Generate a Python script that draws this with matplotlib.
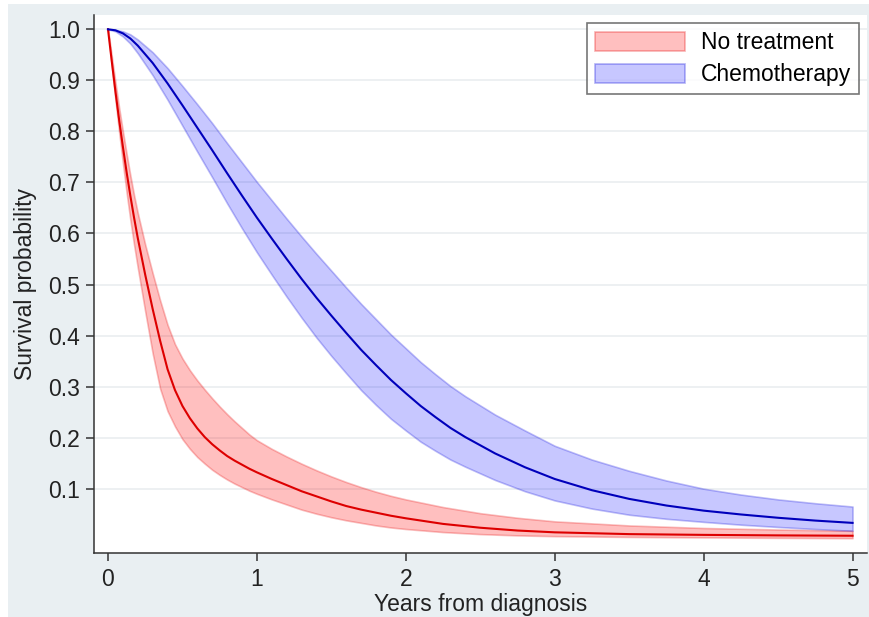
import numpy as np
import matplotlib.pyplot as plt
from matplotlib.patches import Patch, Rectangle

plt.rcParams['font.family'] = ['Liberation Sans', 'DejaVu Sans']

# Chemotherapy: predicted survival with confidence band
t_chemo = [0, 0.05, 0.1, 0.15, 0.2, 0.3, 0.4, 0.5, 0.6, 0.7, 0.8, 0.9, 1.0, 1.1, 1.2, 1.3,
           1.4, 1.5, 1.6, 1.7, 1.8, 1.9, 2.0, 2.1, 2.2, 2.3, 2.4, 2.6, 2.8, 3.0, 3.25, 3.5,
           3.75, 4.0, 4.25, 4.5, 4.75, 5.0]
s_chemo = [1.0, 0.998, 0.992, 0.982, 0.968, 0.934, 0.894, 0.851, 0.807, 0.763, 0.718, 0.674,
           0.631, 0.590, 0.550, 0.511, 0.474, 0.439, 0.405, 0.372, 0.342, 0.313, 0.287, 0.262,
           0.240, 0.219, 0.201, 0.169, 0.142, 0.119, 0.097, 0.080, 0.067, 0.057, 0.0495, 0.043,
           0.0375, 0.033]
lo_chemo = [1.0, 0.996, 0.986, 0.972, 0.953, 0.910, 0.862, 0.811, 0.760, 0.710, 0.659, 0.610,
            0.563, 0.519, 0.476, 0.435, 0.396, 0.360, 0.326, 0.293, 0.264, 0.237, 0.214, 0.192,
            0.174, 0.157, 0.143, 0.117, 0.095, 0.077, 0.061, 0.049, 0.041, 0.035, 0.0295, 0.025,
            0.021, 0.0175]
hi_chemo = [1.0, 0.999, 0.996, 0.990, 0.980, 0.955, 0.924, 0.889, 0.853, 0.816, 0.777, 0.739,
            0.701, 0.665, 0.629, 0.594, 0.560, 0.527, 0.494, 0.462, 0.432, 0.402, 0.375, 0.348,
            0.324, 0.301, 0.281, 0.245, 0.214, 0.184, 0.157, 0.135, 0.116, 0.100, 0.0885, 0.079,
            0.0715, 0.065]

# No treatment
t_none = [0, 0.025, 0.05, 0.075, 0.1, 0.125, 0.15, 0.175, 0.2, 0.25, 0.3, 0.35, 0.4, 0.45,
          0.5, 0.55, 0.6, 0.65, 0.7, 0.75, 0.8, 0.85, 0.9, 0.95, 1.0, 1.1, 1.2, 1.3, 1.4,
          1.5, 1.6, 1.7, 1.8, 1.9, 2.0, 2.25, 2.5, 2.75, 3.0, 3.5, 4.0, 4.5, 5.0]
s_none = [1.0, 0.938, 0.878, 0.822, 0.770, 0.720, 0.674, 0.631, 0.591, 0.519, 0.452, 0.390,
          0.334, 0.293, 0.262, 0.238, 0.218, 0.201, 0.187, 0.175, 0.164, 0.155, 0.147, 0.139,
          0.132, 0.119, 0.107, 0.095, 0.085, 0.075, 0.066, 0.059, 0.053, 0.047, 0.042, 0.031,
          0.0235, 0.018, 0.0145, 0.011, 0.0095, 0.0085, 0.0078]
lo_none = [1.0, 0.930, 0.862, 0.798, 0.738, 0.680, 0.627, 0.578, 0.533, 0.447, 0.365, 0.296,
           0.252, 0.222, 0.197, 0.178, 0.162, 0.149, 0.137, 0.127, 0.118, 0.110, 0.103, 0.096,
           0.090, 0.079, 0.069, 0.059, 0.051, 0.044, 0.038, 0.033, 0.028, 0.024, 0.021, 0.015,
           0.011, 0.0085, 0.007, 0.0055, 0.0045, 0.0037, 0.003]
hi_none = [1.0, 0.948, 0.896, 0.846, 0.800, 0.756, 0.714, 0.675, 0.640, 0.578, 0.522, 0.469,
           0.421, 0.383, 0.355, 0.332, 0.312, 0.294, 0.277, 0.261, 0.246, 0.232, 0.219, 0.206,
           0.195, 0.178, 0.163, 0.149, 0.136, 0.124, 0.113, 0.103, 0.094, 0.086, 0.079, 0.064,
           0.052, 0.043, 0.036, 0.028, 0.023, 0.020, 0.0175]

yticks = [0.1, 0.2, 0.3, 0.4, 0.5, 0.6, 0.7, 0.8, 0.9, 1.0]
ytick_labels = ['0.1', '0.2', '0.3', '0.4', '0.5', '0.6', '0.7', '0.8', '0.9', '1.0']
xticks = [0, 1, 2, 3, 4, 5]

fig = plt.figure(figsize=(8.7, 6.17), dpi=100, facecolor='white')
# light outer background like the Stata graph region
fig.patches.append(Rectangle((8 / 870, 0), 862 / 870, 613 / 617, transform=fig.transFigure,
                             facecolor='#e9eff2', edgecolor='none', zorder=-10))
ax = fig.add_axes([94 / 870, 1 - 553 / 617, 773 / 870, 538 / 617])
ax.set_facecolor('white')

ax.fill_between(t_none, lo_none, hi_none, facecolor=(1, 0, 0, 0.25),
                edgecolor=(0.9, 0, 0, 0.25), lw=1.2, zorder=2)
ax.fill_between(t_chemo, lo_chemo, hi_chemo, facecolor=(0, 0, 1, 0.22),
                edgecolor=(0, 0, 0.85, 0.25), lw=1.2, zorder=2)
ax.plot(t_none, s_none, color='#dd0000', lw=1.5, zorder=3)
ax.plot(t_chemo, s_chemo, color='#0000bb', lw=1.5, zorder=3)

ax.set_xlim(-0.094, 5.097)
ax.set_ylim(-0.026, 1.028)
ax.set_xticks(xticks)
ax.set_yticks(yticks)
ax.set_yticklabels(ytick_labels)
ax.grid(axis='y', color='#eceff1', lw=1.3, zorder=0)
ax.set_axisbelow(True)

for s in ['top', 'right']:
    ax.spines[s].set_visible(False)
for s in ['left', 'bottom']:
    ax.spines[s].set_color('#333333')
    ax.spines[s].set_linewidth(1.1)
ax.tick_params(axis='both', direction='out', length=6, width=1.1, color='#333333',
               labelsize=16.5, labelcolor='#222222')
ax.tick_params(axis='x', pad=5)
ax.tick_params(axis='y', pad=4)

ax.set_xlabel('Years from diagnosis', fontsize=16.5, color='#222222', labelpad=1)
ax.set_ylabel('Survival probability', fontsize=16.5, color='#222222', labelpad=8)

handles = [Patch(facecolor=(1, 0, 0, 0.25), edgecolor=(0.9, 0, 0, 0.3), lw=1.2),
           Patch(facecolor=(0, 0, 1, 0.22), edgecolor=(0, 0, 0.85, 0.3), lw=1.2)]
leg = ax.legend(handles, ['No treatment', 'Chemotherapy'], loc='upper right',
                fontsize=16.5, frameon=True, fancybox=False, handlelength=3.9,
                handleheight=0.9, handletextpad=0.7, labelspacing=0.4, borderpad=0.35,
                borderaxespad=0.35)
leg.get_frame().set_edgecolor('#555555')
leg.get_frame().set_linewidth(1.2)

fig.savefig('out.png', dpi=100, facecolor=fig.get_facecolor())
